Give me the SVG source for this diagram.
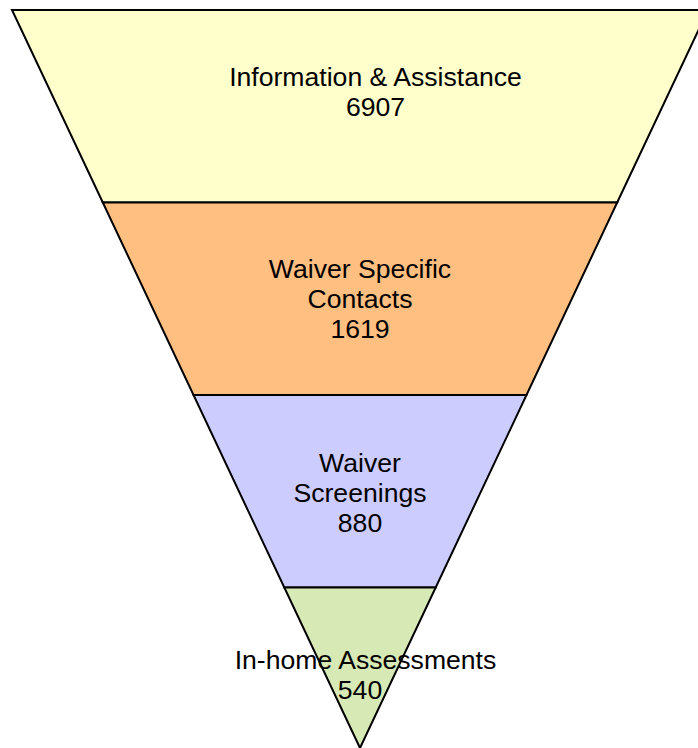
<svg xmlns="http://www.w3.org/2000/svg" width="698" height="748" viewBox="0 0 698 748">
  <style>
    .band { stroke: #000000; stroke-width: 2; stroke-linejoin: miter; }
    .lbl { font-family: "Liberation Sans", Arial, sans-serif; font-size: 26.6px; fill: #000000; text-anchor: middle; }
  </style>
  <rect width="698" height="748" fill="#ffffff"/>
  <!-- funnel stages, widest at top, apex at the bottom centre -->
  <g id="stage-information">
    <polygon class="band" fill="#FFFFCC" points="12,10 708,10 617.2,202.5 102.8,202.5"/>
    <text class="lbl" x="375.5" y="86">Information &amp; Assistance</text>
    <text class="lbl" x="375.5" y="116">6907</text>
  </g>
  <g id="stage-waiver-contacts">
    <polygon class="band" fill="#FFBF80" points="102.8,202.5 617.2,202.5 526.5,395 193.5,395"/>
    <text class="lbl" x="360" y="278">Waiver Specific</text>
    <text class="lbl" x="360" y="308">Contacts</text>
    <text class="lbl" x="360" y="338">1619</text>
  </g>
  <g id="stage-screenings">
    <polygon class="band" fill="#CCCCFF" points="193.5,395 526.5,395 435.7,587.5 284.3,587.5"/>
    <text class="lbl" x="360" y="472">Waiver</text>
    <text class="lbl" x="360" y="501.5">Screenings</text>
    <text class="lbl" x="360" y="531.5">880</text>
  </g>
  <g id="stage-assessments">
    <polygon class="band" fill="#D7E9B5" points="284.3,587.5 435.7,587.5 360,748"/>
    <text class="lbl" x="365.5" y="669">In-home Assessments</text>
    <text class="lbl" x="360" y="699">540</text>
  </g>
  <g id="connectors"/>
</svg>
